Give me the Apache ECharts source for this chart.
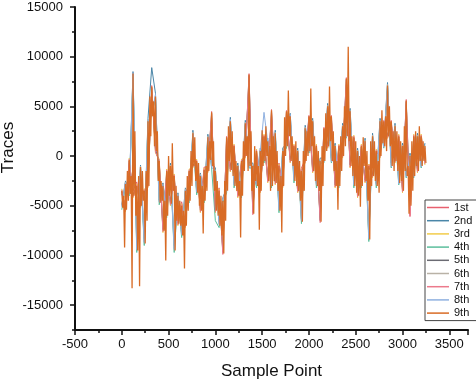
<!DOCTYPE html>
<html><head><meta charset="utf-8">
<script src="https://cdn.jsdelivr.net/npm/echarts@6/dist/echarts.min.js"></script>
<style>html,body{margin:0;padding:0;background:#fff}#c{width:476px;height:385px}</style>
</head><body><div id="c"></div>
<script>
const seriesNames = ['1st','2nd','3rd','4th','5th','6th','7th','8th','9th'];
const xTicks = [-500, 0, 500, 1000, 1500, 2000, 2500, 3000, 3500];
const yTicks = [-15000, -10000, -5000, 0, 5000, 10000, 15000];
const stepTop = 10;    // sample spacing of the 9th trace
const stepUnder = 40;  // sample spacing of traces 1-8

const trace1 = [-3800,-5000,-700,-3500,-2600,-4700,-3800,-2500,6500,800,
-900,-7000,-1800,-4500,-2300,-6400,-4600,-6600,-1800,-800,
-900,-5200,-1100,-1200,3800,-5000,-3200,-9300,1500,-1000,
700,-3600,-800,300,7600,-5300,200,-3200,1700,-2200,
4100,-2400,-700,-2700,4000,-300,700,-3200,-1200,-300,
3600,-1200,800,-6200,2400,800,3600,-2700,700,200,
7200,-800,1600,-3600,700,-2200,-800,-1800,300,200,
3200,1800,3200,-300,1700,-3200,5200,-6000,1700,-1200,
1700,-500];
const trace2 = [-4900,-2500,-3500,8500,-9000,-900,-8300,3800,8900,6300,
-4400,-2700,-5600,-700,-9000,-3700,-7600,-3200,-4200,2600,
-3400,-1700,-4200,2200,-700,-1200,-6600,-4200,-3200,3900,
-2700,-700,-3700,3600,-700,-700,-2700,800,-200,1800,
-2700,2600,-5200,800,1300,4300,-2200,800,-6300,3100,
800,3800,-2700,-200,-200,5300,-200,1300,-2700,3300,
2300,4800,-2700,800,-2700,1800,-8000,2300,-2700,3800,
1300,7400,-700,3300,-2400,1300,-1700,300,-1700,2300,
-700,1300];
const trace3 = [-3300,-5600,-200,-4200,-2800,-5200,-3300,-3200,6800,300,
-300,-7700,-1300,-5000,-1800,-7000,-4800,-7200,-1300,-1200,
-300,-5700,-1200,-1700,4200,-5700,-3300,-9600,1700,-1600,
1200,-4200,-300,-200,8000,-5600,700,-3700,2200,-2700,
4400,-2900,-800,-3200,4300,-700,1200,-3700,-1300,-700,
3800,-1700,1200,-6400,2600,800,3800,-3200,1200,-200,
7500,-1200,2100,-4200,1200,-2700,-800,-2200,700,-200,
3300,1800,3300,-700,2200,-3700,5400,-5200,2200,-1700,
2200,-900];
const trace4 = [-5400,-3000,-4000,8000,-9700,-1300,-9000,3300,4200,5800,
-4900,-3200,-6200,-1200,-9700,-4200,-8200,-3700,-4700,2100,
-3900,-2200,-4700,1700,-1200,-6500,-7200,-4700,-3700,3300,
-3200,-1200,-4200,3100,-1200,-1200,-3200,300,-700,1300,
-3200,2100,-5700,300,800,3800,-2700,300,-6800,2600,
300,3300,-3200,-700,-700,4800,-700,800,-3200,2800,
1800,4300,-3200,300,-3200,1300,-8600,1800,-3200,3300,
800,6900,-1200,2800,-2900,800,-2200,-200,-2200,1800,
-1200,800];
const trace5 = [-3600,-5300,-500,-3900,-3100,-4900,-3600,-2900,6900,600,
-600,-7400,-1600,-4700,-2100,-6700,-5100,-6900,-1600,-900,
-600,-5400,-1500,-1400,4300,-5400,-3600,-9700,1800,-1300,
900,-3900,-600,100,8100,-5700,400,-3400,1900,-2400,
4500,-2600,-1100,-2900,4400,-400,900,-3400,-1600,-400,
3900,-1400,900,-6500,2700,1100,3900,-2900,900,100,
7700,-900,1800,-3900,900,-2400,-1100,-1900,400,100,
3400,2100,3400,-400,1900,-3400,5500,-4900,1900,-1400,
1900,-600];
const trace6 = [-5000,-2600,-3600,8100,-9300,-1000,-8600,3600,4100,6100,
-4500,-2800,-5800,-900,-9300,-3800,-7800,-3300,-4300,2400,
-3500,-1800,-4300,2000,-900,-1400,-6800,-4300,-3300,3600,
-2800,-900,-3800,3400,-900,-900,-2800,600,-400,1600,
-2800,2400,-5300,600,1100,4100,-2300,600,-6400,2900,
600,3600,-2800,-400,-400,5100,-400,1100,-2800,3100,
2100,4600,-2800,600,-2800,1600,-8200,2100,-2800,3600,
1100,7200,-900,3100,-2600,1100,-1900,100,-1900,2100,
-900,1100];
const trace7 = [-3400,-5500,-300,-4100,-2900,-5100,-3400,-3100,7100,400,
-400,-7600,-1400,-4900,-1900,-6900,-4900,-7100,-1400,-1100,
-400,-5600,-1300,-1600,4500,-5600,-3400,-9900,2000,-1500,
1100,-4100,-400,-100,8300,-5900,600,-3600,2100,-2600,
4700,-2800,-900,-3100,4600,-600,1100,-3600,-1400,-600,
4100,-1600,1100,-6700,2900,900,4100,-3100,1100,-100,
7900,-1100,2000,-4100,1100,-2600,-900,-2100,600,-100,
3600,1900,3600,-600,2100,-3600,5700,-6100,2100,-1600,
2100,-800];
const trace8 = [-5100,-2700,-3700,8400,-9400,-1200,-8700,3400,4300,6200,
-4600,-2900,-5900,-1100,-9400,-3900,-7900,-3400,-4400,2200,
-3600,-1900,-4400,1800,-1100,-1600,-6900,-4400,-3400,3700,
-2900,-1100,-3900,3200,-1100,-1100,-2900,400,4400,1400,
-2900,2200,-5400,400,1200,4200,-2400,400,-6500,2700,
400,3400,-2900,-600,-600,4900,-600,900,-2900,2900,
1900,4400,-2900,400,-2900,1400,-8300,1900,-2900,3400,
900,7000,-1100,2900,-2800,900,-2100,-100,-2100,1900,
-1100,900];
const trace9 = [
-3500,-5200,-4000,-9200,-2800,-5400,-1500,-4500,-400,-3800,
-2000,-13300,8300,-4000,2500,-6000,-3000,-9500,-2000,-13100,
-1100,-5000,-1500,-4500,-3500,-8800,-1500,-6500,3500,-3000,
6000,2000,7000,4000,5500,1000,6000,500,2500,-2500,
-500,-4700,-2500,-4500,-3000,-7500,-4500,-10500,-1500,-6000,
0,-4000,-1000,-4800,1300,-3500,-2000,-9500,-3000,-6500,
-4000,-6800,-4500,-7000,-5000,-8000,-5500,-11300,-3500,-7000,
-2000,-5500,-1500,-4500,500,-3000,2300,-1000,1900,-2500,
-500,-3700,-700,-5000,-2000,-5500,-3000,-7800,-1400,-4500,
-1000,-3500,1900,-1500,1500,-400,4400,-1000,1500,-3500,
-1500,-5500,-2500,-6000,-3500,-7000,-4000,-8000,-4500,-9800,
-2500,-6500,1900,-3500,3000,-500,3500,-1400,2500,-2000,
1000,-3000,-500,-3500,-1000,-4000,-2500,-8200,-500,-4000,
1500,-1500,3300,0,2000,-1500,8200,-1000,2500,-3500,
-1000,-5800,1000,-2500,500,-3000,-1000,-7400,500,-3500,
2600,-1000,2000,-500,3000,0,1500,-2500,1000,-3500,
4600,-3000,2000,-2500,2300,-2700,500,-3500,-1000,-5500,
-2000,-7700,500,-3000,3900,0,4500,1000,6600,2000,
4000,-500,2000,-1000,1000,-2500,1500,-3000,500,-3500,
-500,-4500,-1500,-6600,500,-3500,2800,-500,2500,0,
4000,500,6800,1000,3500,-1500,2000,-2500,1000,-3000,
500,-3500,-500,-6600,1000,-3000,2800,-500,4300,500,
5000,1000,7000,1500,4000,-500,2500,-1500,1000,-3000,
-500,-5400,1000,-3000,2000,-1500,3000,0,5000,1000,
7800,2000,11000,1500,4500,-1000,2000,-2000,1900,-3000,
1500,-3700,500,-4000,0,-5100,1000,-3000,1900,-1000,
1500,-2500,500,-4500,-1000,-8400,1500,-3000,2000,-2000,
1500,-2500,500,-3000,-500,-3700,3500,0,4600,1300,
3500,1000,4000,500,7100,2000,5000,1000,3500,-1000,
2500,-1500,3000,-500,2500,-1500,2000,-2700,1500,-2500,
1000,-3500,3000,-1500,5600,-2000,-1000,-5800,0,-5000,
1500,-3500,2000,-2000,2500,-1000,2000,-1500,3000,-500,
2000,-1000,1500,-500,1000,-700];

const colors = ['#e8606f','#4a86a8','#f2cc4a','#5cbf9c','#6b6b73','#b9b2a6','#ec7a8c','#8fb0e0','#d86b25'];
const traces = [trace1,trace2,trace3,trace4,trace5,trace6,trace7,trace8,trace9];

const font = "'Liberation Sans', Arial, sans-serif";
const chart = echarts.init(document.getElementById('c'), null, {renderer:'canvas'});

const series = traces.map((t, k) => ({
  name: seriesNames[k],
  type: 'line',
  xAxisIndex: 0, yAxisIndex: 0,
  showSymbol: false,
  symbol: 'none',
  animation: false,
  lineStyle: {width: k === 8 ? 1.3 : 1, color: colors[k]},
  itemStyle: {color: colors[k]},
  data: t.map((v, i) => [i * (k === 8 ? stepTop : stepUnder), v])
}));

chart.setOption({
  animation: false,
  backgroundColor: '#fff',
  grid: [
    {left: 75, right: 8, top: 7, bottom: 55, containLabel: false, outerBoundsMode: 'none'},
    {left: 75, right: 8, top: 7, bottom: 80, containLabel: false, outerBoundsMode: 'none'}
  ],
  legend: {
    data: seriesNames,
    orient: 'vertical',
    left: 425, top: 200,
    padding: [1, 40, 1, 2],
    itemGap: 0.2,
    itemWidth: 22, itemHeight: 1.5,
    icon: 'rect',
    borderColor: '#444', borderWidth: 1,
    backgroundColor: '#fff',
    textStyle: {fontFamily: font, fontSize: 11, lineHeight: 13, color: '#111'}
  },
  xAxis: [
    {
      gridIndex: 0, type: 'value',
      min: xTicks[0], max: 3700, interval: 500,
      name: 'Sample Point', nameLocation: 'middle', nameGap: 33, nameMoveOverlap: false,
      nameTextStyle: {fontFamily: font, fontSize: 17, color: '#111'},
      axisLine: {show: true, onZero: false, lineStyle: {color: '#111', width: 2}},
      axisTick: {show: true, length: 5, lineStyle: {color: '#111', width: 1.5}},
      minorTick: {show: true, splitNumber: 2, length: 3, lineStyle: {color: '#111', width: 1.5}},
      axisLabel: {fontFamily: font, fontSize: 13, color: '#111', margin: 8, showMaxLabel: false,
        formatter: v => xTicks.indexOf(v) >= 0 ? String(v) : ''},
      splitLine: {show: false}
    },
    {gridIndex: 1, type: 'value', min: 0, max: 1, show: false}
  ],
  yAxis: [
    {
      gridIndex: 0, type: 'value',
      min: -17500, max: 15000, interval: 2500,
      axisLine: {show: true, onZero: false, lineStyle: {color: '#111', width: 2}},
      axisTick: {show: true, length: 3, lineStyle: {color: '#111', width: 1.5}},
      axisLabel: {show: false},
      splitLine: {show: false}
    },
    {
      gridIndex: 1, type: 'value',
      min: yTicks[0], max: yTicks[yTicks.length - 1], interval: 5000,
      name: 'Traces', nameLocation: 'middle', nameGap: 58, nameMoveOverlap: false,
      nameTextStyle: {fontFamily: font, fontSize: 17, color: '#111', padding: [0, 0, 0, 17]},
      axisLine: {show: false, onZero: false},
      axisTick: {show: true, length: 5, lineStyle: {color: '#111', width: 1.5}},
      axisLabel: {fontFamily: font, fontSize: 13, color: '#111', margin: 12,
        formatter: v => String(v)},
      splitLine: {show: false}
    }
  ],
  series: series
});
</script>
</body></html>
